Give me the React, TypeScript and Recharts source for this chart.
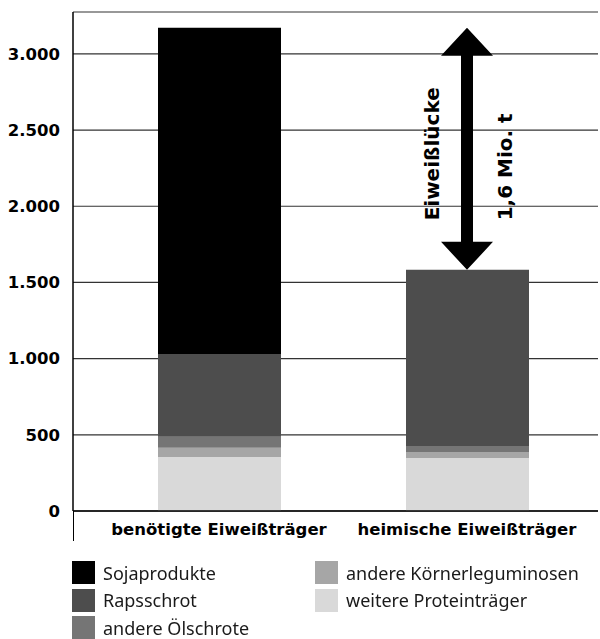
import { BarChart, Bar, XAxis, YAxis, CartesianGrid, ReferenceLine } from 'recharts'

const categories = ['benötigte Eiweißträger', 'heimische Eiweißträger']
const weitereProteintraeger = [355, 348]
const andereKoernerleguminosen = [60, 40]
const andereOelschrote = [73, 39]
const rapsschrot = [543, 1156]
const sojaprodukte = [2140, 0]
const yTicks = [0, 500, 1000, 1500, 2000, 2500, 3000]

const series = [
  { key: 'weitere', name: 'weitere Proteinträger', values: weitereProteintraeger, color: '#d9d9d9' },
  { key: 'koerner', name: 'andere Körnerleguminosen', values: andereKoernerleguminosen, color: '#a6a6a6' },
  { key: 'oel', name: 'andere Ölschrote', values: andereOelschrote, color: '#757575' },
  { key: 'raps', name: 'Rapsschrot', values: rapsschrot, color: '#4d4d4d' },
  { key: 'soja', name: 'Sojaprodukte', values: sojaprodukte, color: '#000000' },
]

const legendOrder = ['soja', 'raps', 'oel', 'koerner', 'weitere']

const data = categories.map((name, i) => {
  const row: Record<string, string | number> = { name }
  series.forEach((s) => (row[s.key] = s.values[i]))
  return row
})

const gapTop = rapsschrot[0] + andereOelschrote[0] + andereKoernerleguminosen[0] + weitereProteintraeger[0] + sojaprodukte[0]
const gapBottom = rapsschrot[1] + andereOelschrote[1] + andereKoernerleguminosen[1] + weitereProteintraeger[1] + sojaprodukte[1]

const BOLD = '"DejaVu Sans", sans-serif'
const REGULAR = '"Noto Sans", "Open Sans", sans-serif'

// eslint-disable-next-line @typescript-eslint/no-explicit-any
function GapArrow(props: any) {
  const { x1, y1, y2 } = props
  const x = x1
  const hw = 26
  const hh = 28
  const sw = 6
  const pts = [
    [x, y1],
    [x + hw, y1 + hh],
    [x + sw, y1 + hh],
    [x + sw, y2 - hh],
    [x + hw, y2 - hh],
    [x, y2],
    [x - hw, y2 - hh],
    [x - sw, y2 - hh],
    [x - sw, y1 + hh],
    [x - hw, y1 + hh],
  ]
  const mid = (y1 + y2) / 2
  return (
    <g>
      <polygon points={pts.map((p) => p.join(',')).join(' ')} fill="#000" />
      <text
        x={x - 35}
        y={mid + 5}
        transform={`rotate(-90 ${x - 35} ${mid + 5})`}
        textAnchor="middle"
        dominantBaseline="central"
        fontFamily={BOLD}
        fontWeight="bold"
        fontSize={20}
        fill="#000"
      >
        Eiweißlücke
      </text>
      <text
        x={x + 38}
        y={mid + 18}
        transform={`rotate(-90 ${x + 38} ${mid + 18})`}
        textAnchor="middle"
        dominantBaseline="central"
        fontFamily={BOLD}
        fontWeight="bold"
        fontSize={20}
        fill="#000"
      >
        1,6 Mio. t
      </text>
    </g>
  )
}

export default function App() {
  const byKey = Object.fromEntries(series.map((s) => [s.key, s]))
  return (
    <div style={{ position: 'fixed', left: 0, top: 0, width: 600, height: 639, background: '#fff' }}>
      <BarChart
        width={600}
        height={545}
        data={data}
        margin={{ top: 12, right: 2, bottom: 0, left: 0 }}
        barSize={123}
      >
        <CartesianGrid vertical={false} stroke="#333" strokeWidth={1.2} />
        <XAxis
          dataKey="name"
          height={34}
          padding={{ left: 22, right: 7 }}
          tickLine={false}
          tickSize={0}
          tickMargin={12}
          axisLine={{ stroke: '#000', strokeWidth: 1.5 }}
          tick={{ fill: '#000', fontSize: 16.5, fontWeight: 'bold', fontFamily: BOLD }}
        />
        <YAxis
          width={73}
          domain={[0, 3275]}
          ticks={yTicks}
          tickLine={false}
          tickSize={0}
          tickMargin={13}
          axisLine={{ stroke: '#000', strokeWidth: 1.5 }}
          tickFormatter={(v: number) => v.toLocaleString('de-DE')}
          tick={{ fill: '#000', fontSize: 16.5, fontWeight: 'bold', fontFamily: BOLD }}
        />
        {series.map((s) => (
          <Bar key={s.key} dataKey={s.key} name={s.name} stackId="a" fill={s.color} isAnimationActive={false} />
        ))}
        <ReferenceLine
          segment={[
            { x: categories[1], y: gapTop },
            { x: categories[1], y: gapBottom },
          ]}
          shape={GapArrow}
        />
      </BarChart>
      <div style={{ position: 'absolute', left: 72.5, top: 511, width: 1.5, height: 30, background: '#000' }} />
      <div
        style={{
          position: 'absolute',
          left: 72,
          top: 559,
          display: 'grid',
          gridTemplateRows: 'repeat(3, 27.5px)',
          gridAutoFlow: 'column',
          gridTemplateColumns: '243px 285px',
          fontFamily: REGULAR,
          fontSize: 18,
          lineHeight: '24px',
          color: '#1a1a1a',
        }}
      >
        {legendOrder.map((k) => (
          <div key={k} style={{ display: 'flex', alignItems: 'center', whiteSpace: 'nowrap' }}>
            <span style={{ width: 23, height: 23, background: byKey[k].color, marginRight: 8, flex: 'none' }} />
            {byKey[k].name}
          </div>
        ))}
      </div>
    </div>
  )
}
